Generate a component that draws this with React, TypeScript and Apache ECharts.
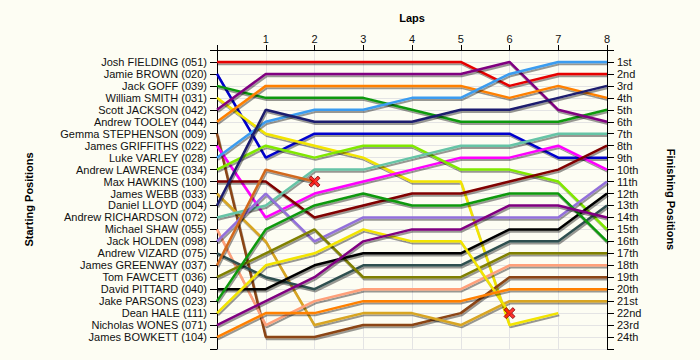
import React, { useEffect, useRef } from "react";
import * as echarts from "echarts";

const laps = [0, 1, 2, 3, 4, 5, 6, 7, 8];

const drivers = [
  "Josh FIELDING (051)",
  "Jamie BROWN (020)",
  "Jack GOFF (039)",
  "William SMITH (031)",
  "Scott JACKSON (042)",
  "Andrew TOOLEY (044)",
  "Gemma STEPHENSON (009)",
  "James GRIFFITHS (022)",
  "Luke VARLEY (028)",
  "Andrew LAWRENCE (034)",
  "Max HAWKINS (100)",
  "James WEBB (033)",
  "Daniel LLOYD (004)",
  "Andrew RICHARDSON (072)",
  "Michael SHAW (055)",
  "Jack HOLDEN (098)",
  "Andrew VIZARD (075)",
  "James GREENWAY (037)",
  "Tom FAWCETT (036)",
  "David PITTARD (040)",
  "Jake PARSONS (023)",
  "Dean HALE (111)",
  "Nicholas WONES (071)",
  "James BOWKETT (104)",
];

const finishLabels = [
  "1st", "2nd", "3rd", "4th", "5th", "6th", "7th", "8th", "9th", "10th",
  "11th", "12th", "13th", "14th", "15th", "16th", "17th", "18th", "19th", "20th",
  "21st", "22nd", "23rd", "24th",
];

const lineColors = [
  "#e60000", "#0000cd", "#119911", "#f2e400", "#800080", "#ff8000",
  "#8b4513", "#ff00ff", "#3a9cf0", "#80e800", "#800000", "#d8a520",
  "#1c1c6e", "#66c4a6", "#ffa07a", "#9370db", "#2f4f4f", "#d2691e",
  "#808000", "#000000", "#119911", "#f2e400", "#800080", "#ff8000",
];

// position per lap (lap 0 .. 8); null = not running
const lapPositions: (number | null)[][] = [
  [1, 1, 1, 1, 1, 1, 3, 2, 2],
  [2, 9, 7, 7, 7, 7, 7, 9, 9],
  [3, 4, 4, 4, 5, 6, 6, 6, 5],
  [4, 7, 8, 9, 11, 11, 23, 22, null],
  [5, 2, 2, 2, 2, 2, 1, 5, 6],
  [6, 3, 3, 3, 3, 3, 4, 3, 4],
  [7, 24, 24, 23, 23, 22, 19, 19, 19],
  [8, 14, 12, 11, 10, 9, 9, 8, 10],
  [9, 6, 5, 5, 4, 4, 2, 1, 1],
  [10, 8, 9, 8, 8, 10, 10, 11, 15],
  [11, 11, 14, 13, 12, 12, 11, 10, 8],
  [12, 16, 23, 22, 22, 23, 21, 21, 21],
  [13, 5, 6, 6, 6, 5, 5, 4, 3],
  [14, 13, 10, 10, 9, 8, 8, 7, 7],
  [15, 23, 21, 20, 20, 20, 18, 18, 18],
  [16, 12, 16, 14, 14, 14, 14, 14, 11],
  [17, 19, 20, 18, 18, 18, 16, 16, 13],
  [18, 10, 11, null, null, null, null, null, null],
  [19, 17, 15, 19, 19, 19, 17, 17, 17],
  [20, 20, 18, 17, 17, 17, 15, 15, 12],
  [21, 15, 13, 12, 13, 13, 12, 12, 16],
  [22, 18, 17, 15, 16, 16, 22, null, null],
  [23, 21, 19, 16, 15, 15, 13, 13, 14],
  [24, 22, 22, 21, 21, 21, 20, 20, 20],
];

// retirements marked with a cross: driver index and lap
const retiredDrivers = [17, 21];
const retiredLaps = [2, 6];

const FONT = "'Liberation Sans', Arial, sans-serif";

export default function App() {
  const ref = useRef<HTMLDivElement>(null);
  useEffect(() => {
    if (!ref.current) return;
    const chart = echarts.init(ref.current, null, { renderer: "svg" });

    const lineSeries = drivers.map((name, d) => ({
      name,
      type: "line",
      symbol: "none",
      z: 2,
      data: laps
        .map((lap, i) => [lap, lapPositions[d][i]])
        .filter((p) => p[1] !== null),
      lineStyle: {
        color: lineColors[d],
        width: 2.5,
        shadowColor: "rgba(0,0,0,0.4)",
        shadowBlur: 1,
        shadowOffsetX: 1,
        shadowOffsetY: 2,
      },
      itemStyle: { color: lineColors[d] },
    }));

    const crossData = retiredDrivers.map((d, k) => [
      retiredLaps[k],
      lapPositions[d][laps.indexOf(retiredLaps[k])],
    ]);

    chart.setOption({
      animation: false,
      backgroundColor: "#fdfdf3",
      textStyle: { fontFamily: FONT },
      grid: { left: 217, right: 93, top: 50, bottom: 11, containLabel: false },
      xAxis: {
        type: "value",
        position: "top",
        min: 0,
        max: 8,
        interval: 1,
        name: "Laps",
        nameLocation: "middle",
        nameGap: 27,
        nameTextStyle: { fontWeight: "bold", fontSize: 11, color: "#000", fontFamily: FONT },
        axisLine: { show: true, lineStyle: { color: "#000", width: 1 } },
        axisTick: { show: true, length: 5, lineStyle: { color: "#000" } },
        axisLabel: {
          margin: 6,
          fontSize: 11,
          color: "#111",
          fontFamily: FONT,
          formatter: (v: number) => (v === 0 ? "" : String(v)),
        },
        splitLine: { show: true, lineStyle: { color: "#e4e4e4", width: 1 } },
      },
      yAxis: [
        {
          type: "value",
          inverse: true,
          min: 0,
          max: 25,
          interval: 1,
          position: "left",
          name: "Starting Positions",
          nameLocation: "middle",
          nameGap: 183,
          nameTextStyle: { fontWeight: "bold", fontSize: 11, color: "#000", fontFamily: FONT },
          axisLine: { show: true, lineStyle: { color: "#000", width: 1 } },
          axisTick: { show: true, length: 7, lineStyle: { color: "#000" } },
          axisLabel: {
            margin: 10,
            fontSize: 11,
            color: "#111",
            fontFamily: FONT,
            formatter: (v: number) => drivers[v - 1] ?? "",
          },
          splitLine: { show: true, lineStyle: { color: "#e4e4e4", width: 1 } },
        },
        {
          type: "value",
          inverse: true,
          min: 0,
          max: 25,
          interval: 1,
          position: "right",
          name: "Finishing Positions",
          nameLocation: "middle",
          nameGap: 58,
          nameRotate: -90,
          nameTextStyle: { fontWeight: "bold", fontSize: 11, color: "#000", fontFamily: FONT },
          axisLine: { show: true, lineStyle: { color: "#000", width: 1 } },
          axisTick: { show: true, length: 7, lineStyle: { color: "#000" } },
          axisLabel: {
            margin: 10,
            fontSize: 11,
            color: "#111",
            fontFamily: FONT,
            formatter: (v: number) => finishLabels[v - 1] ?? "",
          },
          splitLine: { show: false },
        },
      ],
      series: [
        ...lineSeries,
        {
          type: "scatter",
          z: 5,
          data: crossData,
          symbol:
            "path://M2,0 L5,3 L8,0 L10,2 L7,5 L10,8 L8,10 L5,7 L2,10 L0,8 L3,5 L0,2 Z",
          symbolSize: 11,
          itemStyle: { color: "#ff0000", borderColor: "#7a0000", borderWidth: 1 },
        },
      ],
    });
    return () => chart.dispose();
  }, []);
  return (
    <div
      ref={ref}
      style={{ position: "fixed", left: 0, top: 0, width: 700, height: 360 }}
    />
  );
}
